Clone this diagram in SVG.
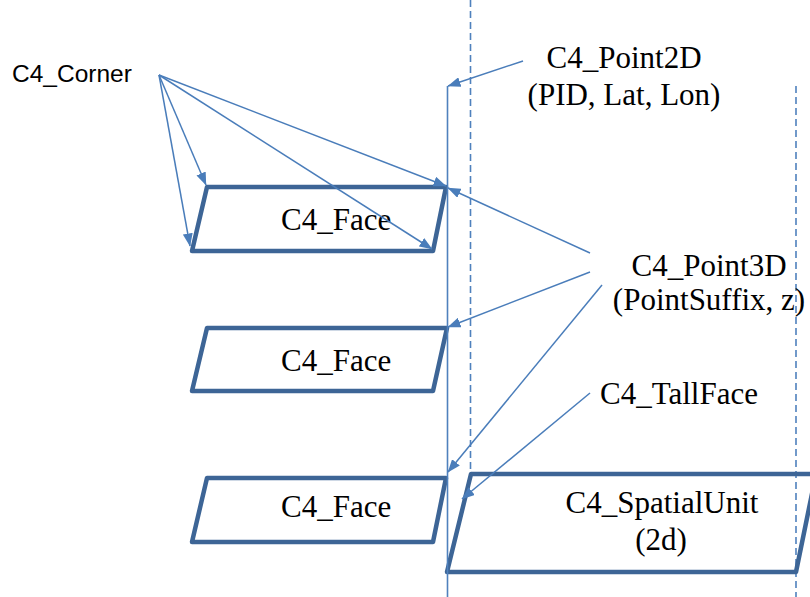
<svg xmlns="http://www.w3.org/2000/svg" width="810" height="597" viewBox="0 0 810 597">
<style>
.shape{fill:none;stroke:#3D6596;stroke-width:4.5;stroke-linejoin:round}
.con{fill:none;stroke:#4A7DBA;stroke-width:1.5}
.guide{fill:none;stroke:#4F81BD;stroke-width:1.6}
.dash{fill:none;stroke:#4F81BD;stroke-width:1.6;stroke-dasharray:7 4}
</style>
<defs>
<marker id="ah" viewBox="0 0 13 10" refX="12.5" refY="5" markerWidth="13" markerHeight="10" markerUnits="userSpaceOnUse" orient="auto">
<path d="M0,0 L13,5 L0,10 Z" fill="#4A7DBA"/>
</marker>
</defs>
<rect width="810" height="597" fill="#fff"/>
<g id="guides">
<line class="dash" x1="470.5" y1="0" x2="470.5" y2="474"/>
<line class="dash" x1="796" y1="86" x2="796" y2="597"/>
</g>
<g id="face1">
<polygon class="shape" points="207,187 446,187 433,251 192,251"/>
<text x="281" y="230" font-family="Times New Roman" font-size="31" style="font-family:'Times New Roman'">C4_Face</text>
</g>
<g id="face2">
<polygon class="shape" points="207,328 447,328 433,391 192,391"/>
<text x="281" y="371" font-family="Times New Roman" font-size="31" style="font-family:'Times New Roman'">C4_Face</text>
</g>
<g id="face3">
<polygon class="shape" points="207,478 446,478 433,542 192,542"/>
<text x="281" y="517" font-family="Times New Roman" font-size="31" style="font-family:'Times New Roman'">C4_Face</text>
</g>
<g id="spatialunit">
<polygon class="shape" points="471,474 816,474 796,572 447,572"/>
<text x="662" y="513" text-anchor="middle" font-family="Times New Roman" font-size="31" style="font-family:'Times New Roman'">C4_SpatialUnit</text>
<text x="661" y="550" text-anchor="middle" font-family="Times New Roman" font-size="31" style="font-family:'Times New Roman'">(2d)</text>
</g>
<g id="tallface">
<line class="guide" x1="447.5" y1="86" x2="447.5" y2="597"/>
</g>
<g id="point2d-label">
<text x="624" y="68" text-anchor="middle" font-family="Times New Roman" font-size="31" style="font-family:'Times New Roman'">C4_Point2D</text>
<text x="624" y="105" text-anchor="middle" font-family="Times New Roman" font-size="31" style="font-family:'Times New Roman'">(PID, Lat, Lon)</text>
</g>
<g id="point3d-label">
<text x="709" y="276" text-anchor="middle" font-family="Times New Roman" font-size="31" style="font-family:'Times New Roman'">C4_Point3D</text>
<text x="709" y="310" text-anchor="middle" font-family="Times New Roman" font-size="31" style="font-family:'Times New Roman'">(PointSuffix, z)</text>
</g>
<g id="tallface-label">
<text x="600" y="404" font-family="Times New Roman" font-size="31" style="font-family:'Times New Roman'">C4_TallFace</text>
</g>
<g id="corner-label">
<text x="12" y="82" font-family="Liberation Sans" font-size="24.5">C4_Corner</text>
</g>
<g id="connectors">
<line class="con" x1="159" y1="75" x2="190" y2="246" marker-end="url(#ah)"/>
<line class="con" x1="159" y1="75" x2="206" y2="185" marker-end="url(#ah)"/>
<line class="con" x1="159" y1="75" x2="432" y2="249" marker-end="url(#ah)"/>
<line class="con" x1="159" y1="75" x2="446" y2="186" marker-end="url(#ah)"/>
<line class="con" x1="523" y1="61" x2="448" y2="86" marker-end="url(#ah)"/>
<line class="con" x1="590" y1="253" x2="448" y2="188" marker-end="url(#ah)"/>
<line class="con" x1="590" y1="272" x2="448" y2="327" marker-end="url(#ah)"/>
<line class="con" x1="602" y1="285" x2="448" y2="472" marker-end="url(#ah)"/>
<line class="con" x1="590" y1="393" x2="462" y2="499" marker-end="url(#ah)"/>
</g>
</svg>
